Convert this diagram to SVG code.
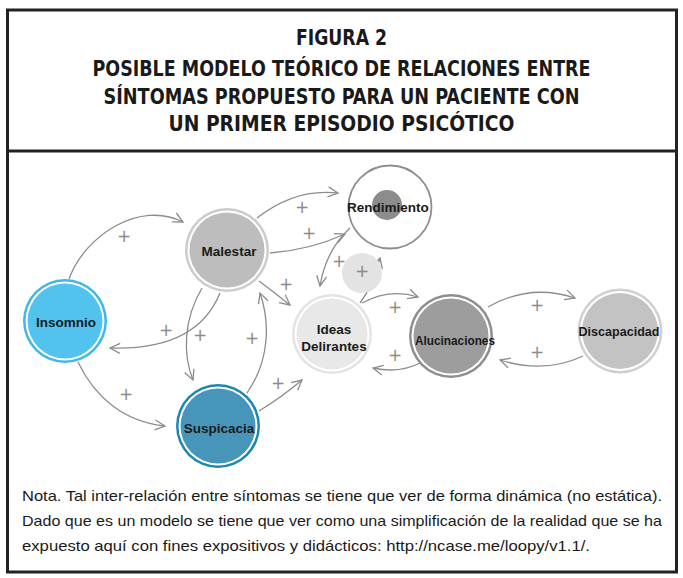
<svg xmlns="http://www.w3.org/2000/svg" width="683" height="578" viewBox="0 0 683 578">
<style>
.title{font-family:"Liberation Sans Narrow","DejaVu Sans Condensed","Liberation Sans",sans-serif;font-weight:bold;font-size:21px;fill:#1a1a1a;text-anchor:middle}
.note{font-family:"Liberation Sans",Arial,sans-serif;font-size:15px;fill:#1a1a1a}
.lbl{font-family:"Liberation Sans",Arial,sans-serif;font-weight:bold;font-size:13.5px;fill:#1a1a1a;text-anchor:middle}
.plus{font-family:"DejaVu Sans","Liberation Sans",sans-serif;font-size:17px;fill:#8c8c8c;text-anchor:middle}
.edge{fill:none;stroke:#8c8c8c;stroke-width:1.3}
</style>
<defs>
<marker id="arr" viewBox="0 0 12 12" refX="11" refY="6" markerWidth="12" markerHeight="12" markerUnits="userSpaceOnUse" orient="auto">
<path d="M1,1 L11,6 L1,11" fill="none" stroke="#8c8c8c" stroke-width="1.3"/>
</marker>
</defs>
<rect x="0" y="0" width="683" height="578" fill="#ffffff"/>
<rect x="7.5" y="10" width="669" height="562" fill="#ffffff" stroke="#222" stroke-width="3"/>
<line x1="7.5" y1="151" x2="676.5" y2="151" stroke="#222" stroke-width="3"/>

<g id="title">
<text class="title" x="341.5" y="45" textLength="91" lengthAdjust="spacingAndGlyphs">FIGURA 2</text>
<text class="title" x="341.5" y="76" textLength="498" lengthAdjust="spacingAndGlyphs">POSIBLE MODELO TEÓRICO DE RELACIONES ENTRE</text>
<text class="title" x="341.5" y="104" textLength="476" lengthAdjust="spacingAndGlyphs">SÍNTOMAS PROPUESTO PARA UN PACIENTE CON</text>
<text class="title" x="341.5" y="131" textLength="346" lengthAdjust="spacingAndGlyphs">UN PRIMER EPISODIO PSICÓTICO</text>
</g>

<g id="connectors">
<path class="edge" marker-end="url(#arr)" d="M69 279 C85 235 140 200 183 222"/>
<path class="edge" marker-end="url(#arr)" d="M257 218 Q295 188 338 193"/>
<path class="edge" marker-end="url(#arr)" d="M270 253 Q310 250 345 234"/>
<path class="edge" marker-end="url(#arr)" d="M259 281 Q275 293 290 305"/>
<path class="edge" marker-end="url(#arr)" d="M350 228 Q326 250 320 286"/>
<path class="edge" marker-end="url(#arr)" d="M360 303 Q373 286 380 258"/>
<path class="edge" marker-end="url(#arr)" d="M362 303 Q390 288 418 297"/>
<path class="edge" marker-end="url(#arr)" d="M422 362 Q400 374 373 368"/>
<path class="edge" marker-end="url(#arr)" d="M488 307 Q530 283 575 298"/>
<path class="edge" marker-end="url(#arr)" d="M583 356 Q545 374 500 360"/>
<path class="edge" marker-end="url(#arr)" d="M220 293 C205 330 170 350 110 348"/>
<path class="edge" marker-end="url(#arr)" d="M202 288 C183 320 183 355 193 380"/>
<path class="edge" marker-end="url(#arr)" d="M247 393 C270 360 270 322 260 293"/>
<path class="edge" marker-end="url(#arr)" d="M78 362 C95 398 125 422 165 426"/>
<path class="edge" marker-end="url(#arr)" d="M259 411 Q282 397 302 380"/>
</g>

<g id="nodo-pequeno">
<circle cx="362" cy="273" r="20" fill="#e3e3e3"/>
</g>

<g id="signs">
<text class="plus" x="124" y="242">+</text>
<text class="plus" x="302" y="213">+</text>
<text class="plus" x="309" y="239">+</text>
<text class="plus" x="286" y="290">+</text>
<text class="plus" x="339" y="267">+</text>
<text class="plus" x="362" y="277">+</text>
<text class="plus" x="395" y="313">+</text>
<text class="plus" x="395" y="361">+</text>
<text class="plus" x="537" y="311">+</text>
<text class="plus" x="537" y="358">+</text>
<text class="plus" x="166" y="336">+</text>
<text class="plus" x="200" y="341">+</text>
<text class="plus" x="252" y="344">+</text>
<text class="plus" x="126" y="400">+</text>
<text class="plus" x="278" y="389">+</text>
</g>

<g id="insomnio">
<circle cx="65" cy="321" r="42" fill="#3db8e8"/>
<circle cx="65" cy="321" r="39.5" fill="#ffffff"/>
<circle cx="65" cy="321" r="37.5" fill="#52c3ef"/>
<text class="lbl" x="66" y="327" font-size="14">Insomnio</text>
</g>

<g id="malestar">
<circle cx="227" cy="250" r="42" fill="#cccccc"/>
<circle cx="227" cy="250" r="39.5" fill="#ffffff"/>
<circle cx="227" cy="250" r="37.5" fill="#bdbdbd"/>
<text class="lbl" x="229" y="256" font-size="14">Malestar</text>
</g>

<g id="rendimiento">
<circle cx="390" cy="207" r="41.5" fill="#ffffff" stroke="#8e8e8e" stroke-width="1.8"/>
<circle cx="387" cy="205" r="15" fill="#8c8c8c"/>
<text class="lbl" x="388" y="212" font-size="13">Rendimiento</text>
</g>

<g id="ideas-delirantes">
<circle cx="332" cy="334" r="40" fill="#e3e3e3"/>
<circle cx="332" cy="334" r="37.5" fill="#ffffff"/>
<circle cx="332" cy="334" r="35.5" fill="#e8e8e8"/>
<text class="lbl" x="334" y="334" font-size="14">Ideas</text>
<text class="lbl" x="334" y="351" font-size="14">Delirantes</text>
</g>

<g id="alucinaciones">
<circle cx="451" cy="336" r="42" fill="#8e8e8e"/>
<circle cx="451" cy="336" r="39.5" fill="#ffffff"/>
<circle cx="451" cy="336" r="37.5" fill="#9d9d9d"/>
<text class="lbl" x="455" y="345" font-size="13" textLength="80" lengthAdjust="spacingAndGlyphs">Alucinaciones</text>
</g>

<g id="discapacidad">
<circle cx="620" cy="331" r="42.5" fill="#d0d0d0"/>
<circle cx="620" cy="331" r="40" fill="#ffffff"/>
<circle cx="620" cy="331" r="38" fill="#c3c3c3"/>
<text class="lbl" x="619" y="336" font-size="13" textLength="81" lengthAdjust="spacingAndGlyphs">Discapacidad</text>
</g>

<g id="suspicacia">
<circle cx="218" cy="426" r="42" fill="#1c88b0"/>
<circle cx="218" cy="426" r="39.5" fill="#ffffff"/>
<circle cx="218" cy="426" r="37.5" fill="#4796b9"/>
<text class="lbl" x="219" y="433" font-size="14">Suspicacia</text>
</g>

<g id="nota">
<text class="note" x="22" y="501" textLength="640" lengthAdjust="spacingAndGlyphs">Nota. Tal inter-relación entre síntomas se tiene que ver de forma dinámica (no estática).</text>
<text class="note" x="22" y="526" textLength="640" lengthAdjust="spacingAndGlyphs">Dado que es un modelo se tiene que ver como una simplificación de la realidad que se ha</text>
<text class="note" x="22" y="551" textLength="568" lengthAdjust="spacingAndGlyphs">expuesto aquí con fines expositivos y didácticos: http://ncase.me/loopy/v1.1/.</text>
</g>
</svg>
